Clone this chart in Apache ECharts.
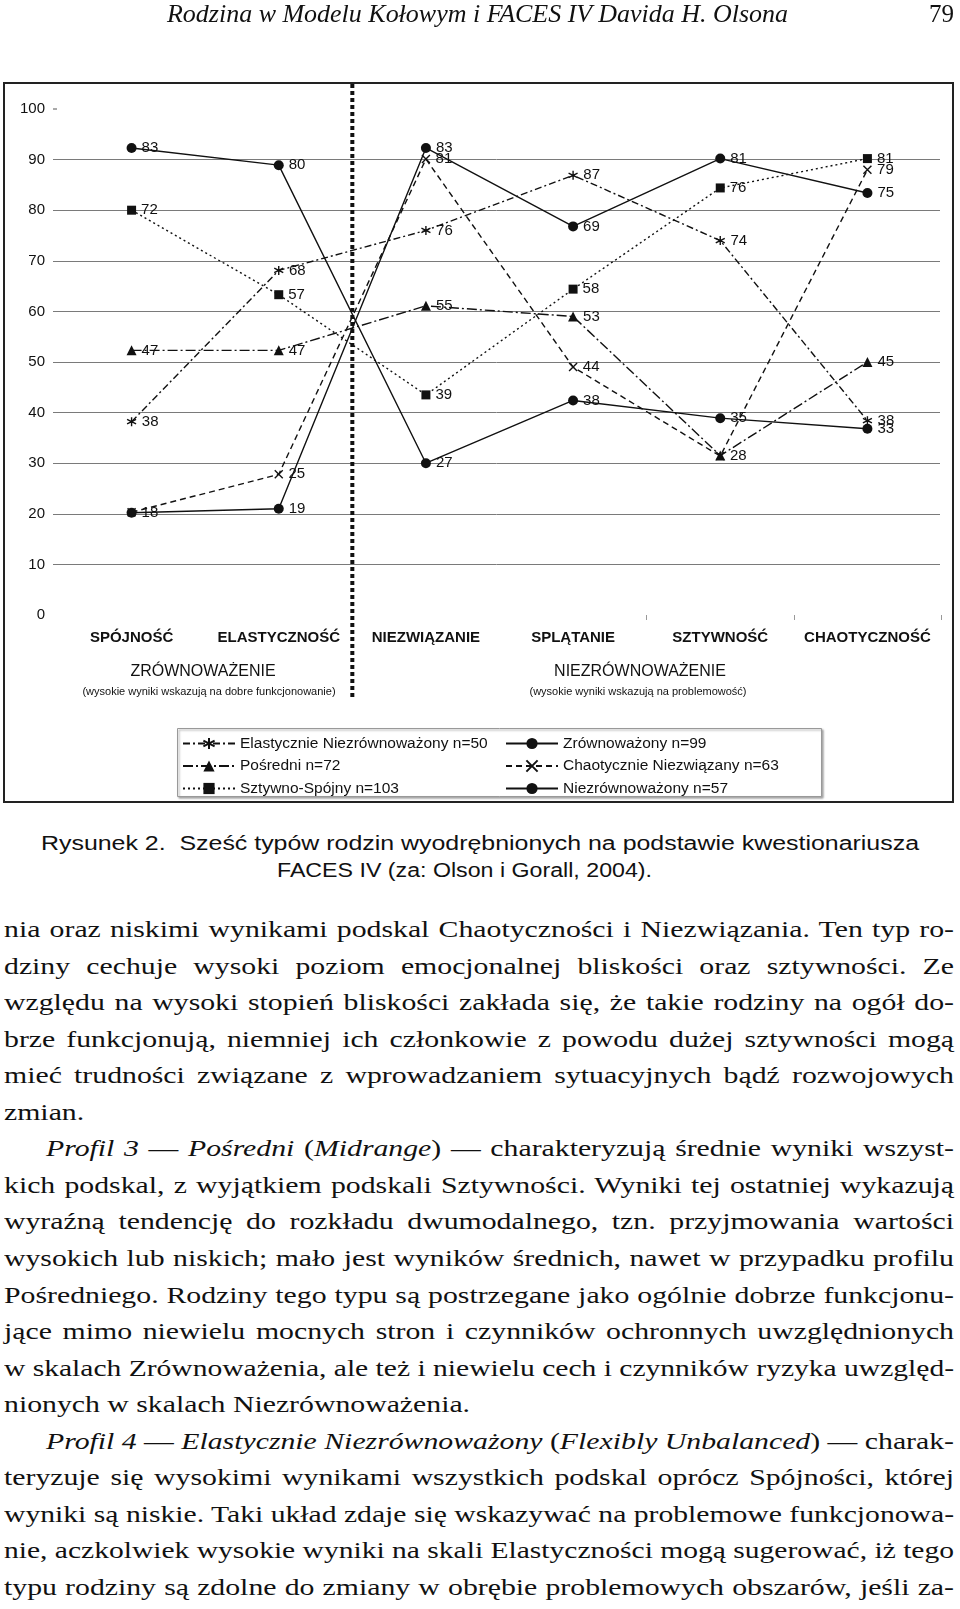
<!DOCTYPE html>
<html><head><meta charset="utf-8">
<script src="https://cdn.jsdelivr.net/npm/echarts@6/dist/echarts.min.js"></script>
<style>
html,body{margin:0;padding:0;background:#fff;}
body{width:960px;height:1609px;position:relative;overflow:hidden;color:#111;}
#chart{position:absolute;left:0;top:0;width:960px;height:820px;}
.fit{position:absolute;white-space:nowrap;transform-origin:0 0;line-height:1;}
.hdr{font-family:'Liberation Serif','Times New Roman',serif;font-style:italic;font-size:26px;}
.pg{font-family:'Liberation Serif','Times New Roman',serif;font-size:26px;}
.cap{font-family:'Liberation Sans',Arial,sans-serif;font-size:20px;}
.bd{font-family:'Liberation Serif','Times New Roman',serif;font-size:24px;}
</style></head><body>
<div id="chart"></div>
<span class="fit hdr" id="hdr">Rodzina w Modelu Kołowym i FACES IV Davida H. Olsona</span>
<span class="fit pg" id="pg">79</span>
<span class="fit cap" id="cap1">Rysunek 2.&nbsp; Sześć typów rodzin wyodrębnionych na podstawie kwestionariusza</span>
<span class="fit cap" id="cap2">FACES IV (za: Olson i Gorall, 2004).</span>
<div id="body"></div>
<script>
// ---------- data ----------
const categories = ['SPÓJNOŚĆ','ELASTYCZNOŚĆ','NIEZWIĄZANIE','SPLĄTANIE','SZTYWNOŚĆ','CHAOTYCZNOŚĆ'];
const seriesNames = ['Elastycznie Niezrównoważony n=50','Pośredni n=72','Sztywno-Spójny n=103',
                     'Zrównoważony n=99','Chaotycznie Niezwiązany n=63','Niezrównoważony n=57'];
const elasticPos = [38.2, 68.1, 76.0, 86.9, 74.0, 38.4];
const elasticLbl = [38, 68, 76, 87, 74, 38];
const midPos     = [52.3, 52.3, 61.1, 59.0, 31.5, 50.0];
const midLbl     = [47, 47, 55, 53, null, 45];
const rigidPos   = [80.0, 63.3, 43.5, 64.4, 84.4, 90.2];
const rigidLbl   = [72, 57, 39, 58, 76, 81];
const balPos     = [92.3, 88.9, 30.0, 42.4, 38.9, 36.8];
const balLbl     = [83, 80, 27, 38, 35, 33];
const chaosPos   = [20.3, 27.8, 90.1, 49.0, 31.4, 88.0];
const chaosLbl   = [null, 25, 81, 44, 28, 79];
const unbalPos   = [20.2, 21.0, 92.3, 76.8, 90.2, 83.4];
const unbalLbl   = [18, 19, 83, 69, 81, 75];
const yMin = 0, yMax = 100, yStep = 10;
const groupLabels = ['ZRÓWNOWAŻENIE','NIEZRÓWNOWAŻENIE'];
const groupNotes = ['(wysokie wyniki wskazują na dobre funkcjonowanie)','(wysokie wyniki wskazują na problemowość)'];

const bodyLines = [
 ['nia oraz niskimi wynikami podskal Chaotyczności i Niezwiązania. Ten typ ro-',0,1],
 ['dziny cechuje wysoki poziom emocjonalnej bliskości oraz sztywności. Ze',0,1],
 ['względu na wysoki stopień bliskości zakłada się, że takie rodziny na ogół do-',0,1],
 ['brze funkcjonują, niemniej ich członkowie z powodu dużej sztywności mogą',0,1],
 ['mieć trudności związane z wprowadzaniem sytuacyjnych bądź rozwojowych',0,1],
 ['zmian.',0,0],
 ['<i>Profil 3</i> — <i>Pośredni</i> (<i>Midrange</i>) — charakteryzują średnie wyniki wszyst-',1,1],
 ['kich podskal, z wyjątkiem podskali Sztywności. Wyniki tej ostatniej wykazują',0,1],
 ['wyraźną tendencję do rozkładu dwumodalnego, tzn. przyjmowania wartości',0,1],
 ['wysokich lub niskich; mało jest wyników średnich, nawet w przypadku profilu',0,1],
 ['Pośredniego. Rodziny tego typu są postrzegane jako ogólnie dobrze funkcjonu-',0,1],
 ['jące mimo niewielu mocnych stron i czynników ochronnych uwzględnionych',0,1],
 ['w skalach Zrównoważenia, ale też i niewielu cech i czynników ryzyka uwzględ-',0,1],
 ['nionych w skalach Niezrównoważenia.',0,0],
 ['<i>Profil 4</i> — <i>Elastycznie Niezrównoważony</i> (<i>Flexibly Unbalanced</i>) — charak-',1,1],
 ['teryzuje się wysokimi wynikami wszystkich podskal oprócz Spójności, której',0,1],
 ['wyniki są niskie. Taki układ zdaje się wskazywać na problemowe funkcjonowa-',0,1],
 ['nie, aczkolwiek wysokie wyniki na skali Elastyczności mogą sugerować, iż tego',0,1],
 ['typu rodziny są zdolne do zmiany w obrębie problemowych obszarów, jeśli za-',0,1]
];

// ---------- page text ----------
function fitTo(el, left, top, width){
  el.style.left = left+'px'; el.style.top = top+'px';
  const w = el.getBoundingClientRect().width;
  el.style.transform = 'scaleX('+(width/w)+')';
}
fitTo(document.getElementById('hdr'), 167, 1, 621);
fitTo(document.getElementById('pg'), 929, 1, 25);
fitTo(document.getElementById('cap1'), 41, 833, 878);
fitTo(document.getElementById('cap2'), 277, 860, 375);

const body = document.getElementById('body');
const S0 = 1.24, LEFT = 4, RIGHT = 954, TOP0 = 917, PITCH = 36.55, INDENT = 42;
bodyLines.forEach((ln, i) => {
  const el = document.createElement('span');
  el.className = 'fit bd';
  el.innerHTML = ln[0];
  body.appendChild(el);
  const left = LEFT + (ln[1] ? INDENT : 0);
  const avail = RIGHT - left;
  el.style.left = left+'px';
  el.style.top = (TOP0 + i*PITCH)+'px';
  const nw = el.getBoundingClientRect().width;
  let s = S0;
  if (ln[2]) {
    const n = (el.textContent.match(/ /g) || []).length;
    if (nw*S0 <= avail) { el.style.wordSpacing = ((avail/S0 - nw)/n)+'px'; }
    else { s = avail/nw; }
  }
  el.style.transform = 'scaleX('+s+')';
});

// ---------- chart ----------
const FONT = 'Liberation Sans';
const INK = '#111';
const chart = echarts.init(document.getElementById('chart'), null, {renderer:'canvas'});
const ASTER = 'path://M5,0L5,10M0.67,2.5L9.33,7.5M9.33,2.5L0.67,7.5';
const CROSS = 'path://M0,0L10,10M10,0L0,10';

function mk(name, pos, lbl, symbol, size, type, stroked){
  return {
    name, type:'line', xAxisIndex:0, yAxisIndex:0, data:pos,
    symbol, symbolSize:size, showAllSymbol:true,
    lineStyle:{color:INK, width:1.4, type:type},
    itemStyle:{color:INK, borderColor:INK, borderWidth: stroked ? 1.4 : 0},
    label:{show:true, position:'right', distance:5, color:INK, fontSize:15, fontFamily:FONT,
      formatter: p => lbl[p.dataIndex] == null ? '' : String(lbl[p.dataIndex])},
    emphasis:{disabled:true}, animation:false
  };
}

const gridColors = [];
for (let v = yMin; v <= yMax; v += yStep) gridColors.push((v === yMin || v === yMax) ? 'rgba(0,0,0,0)' : '#7a7a7a');

const legendCommon = {
  orient:'vertical', top:735.5, itemWidth:52, itemHeight:14, itemGap:6.5,
  selectedMode:false, padding:0,
  textStyle:{fontFamily:FONT, fontSize:15.5, color:INK, lineHeight:14}
};

chart.setOption({
  animation:false,
  backgroundColor:'#fff',
  textStyle:{fontFamily:FONT},
  grid:[{left:58, top:109, width:883, height:506},
        {left:53, top:109, width:887, height:506}],
  xAxis:[
    {type:'category', gridIndex:0, data:categories, boundaryGap:true,
     axisLine:{show:false},
     axisTick:{show:true, length:5, interval:(i)=> i===4 || i===5, lineStyle:{color:'#999'}},
     axisLabel:{interval:0, margin:15, fontSize:15, fontWeight:'bold', color:INK, fontFamily:FONT},
     splitLine:{show:false}},
    {type:'category', gridIndex:1, data:categories, show:false}
  ],
  yAxis:[
    {type:'value', gridIndex:0, min:yMin, max:yMax, interval:yStep, show:false},
    {type:'value', gridIndex:1, min:yMin, max:yMax, interval:yStep,
     axisLine:{show:false}, axisTick:{show:false},
     axisLabel:{margin:8, fontSize:15, color:INK, fontFamily:FONT},
     splitLine:{show:true, lineStyle:{color:gridColors, width:1}}}
  ],
  legend:[
    Object.assign({left:182, data:seriesNames.slice(0,3)}, legendCommon),
    Object.assign({left:505, data:seriesNames.slice(3)}, legendCommon)
  ],
  series:[
    mk(seriesNames[0], elasticPos, elasticLbl, ASTER, 9, [7,3,2,3], true),
    mk(seriesNames[1], midPos, midLbl, 'triangle', 10, [10,3,2,3], false),
    mk(seriesNames[2], rigidPos, rigidLbl, 'rect', 9, [2,3], false),
    mk(seriesNames[3], balPos, balLbl, 'circle', 10, 'solid', false),
    mk(seriesNames[4], chaosPos, chaosLbl, CROSS, 8, [6,4], true),
    mk(seriesNames[5], unbalPos, unbalLbl, 'circle', 10, 'solid', false)
  ]
});

const x1 = chart.convertToPixel({xAxisIndex:0}, categories[1]);
const x2 = chart.convertToPixel({xAxisIndex:0}, categories[2]);
const divX = (x1 + x2) / 2;
const y100 = chart.convertToPixel({yAxisIndex:1}, yMax);

chart.setOption({
  graphic:[
    {type:'rect', shape:{x:4, y:83, width:949, height:719}, style:{fill:'none', stroke:'#222', lineWidth:2}, silent:true, z:-1},
    {type:'rect', shape:{x:177.5, y:728.5, width:644, height:68},
     style:{fill:'#fff', stroke:'#999', lineWidth:1, shadowBlur:2, shadowOffsetX:1.5, shadowOffsetY:1.5, shadowColor:'rgba(0,0,0,0.35)'}, silent:true, z:-1},
    {type:'line', shape:{x1:divX, y1:84, x2:divX, y2:697}, style:{stroke:INK, lineWidth:4, lineDash:[4,3]}, silent:true, z:10},
    {type:'line', shape:{x1:53, y1:y100, x2:57, y2:y100}, style:{stroke:'#555', lineWidth:1}, silent:true},
    {type:'text', x:203, y:672, style:{text:groupLabels[0], fontFamily:FONT, fontSize:16, fill:INK, align:'center', verticalAlign:'middle'}, silent:true},
    {type:'text', x:640, y:672, style:{text:groupLabels[1], fontFamily:FONT, fontSize:16, fill:INK, align:'center', verticalAlign:'middle'}, silent:true},
    {type:'text', x:209, y:692, style:{text:groupNotes[0], fontFamily:FONT, fontSize:11, fill:INK, align:'center', verticalAlign:'middle'}, silent:true},
    {type:'text', x:638, y:692, style:{text:groupNotes[1], fontFamily:FONT, fontSize:11, fill:INK, align:'center', verticalAlign:'middle'}, silent:true}
  ]
});
</script>
</body></html>
